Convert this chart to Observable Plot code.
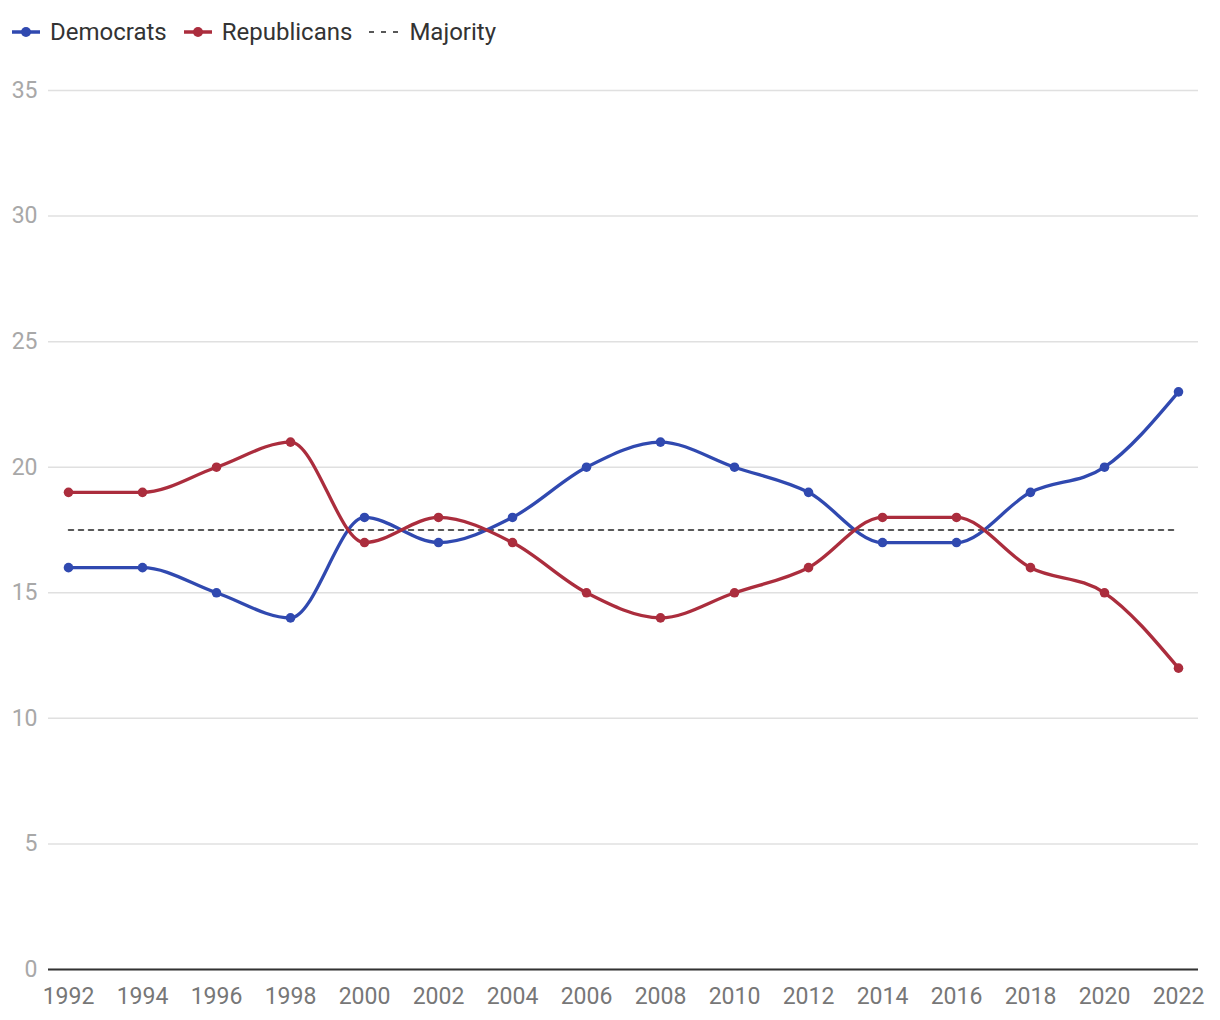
<!DOCTYPE html>
<html>
<head>
<meta charset="utf-8">
<script src="https://cdn.jsdelivr.net/npm/d3@7"></script>
<script src="https://cdn.jsdelivr.net/npm/@observablehq/plot@0.6"></script>
<style>
  html, body { margin: 0; padding: 0; background: #fff; font-family: Roboto, "Noto Sans", sans-serif; }
  #legend { height: 60px; display: flex; align-items: center; padding-left: 12px; font-size: 24px; color: #333; box-sizing: border-box; padding-top: 4px; }
  .item { display: flex; align-items: center; margin-right: 17px; }
  .item svg { margin-right: 10px; }
</style>
</head>
<body>
<div id="legend"></div>
<div id="chart"></div>
<script>
const years = [1992,1994,1996,1998,2000,2002,2004,2006,2008,2010,2012,2014,2016,2018,2020,2022];
const democrats = [16,16,15,14,18,17,18,20,21,20,19,17,17,19,20,23];
const republicans = [19,19,20,21,17,18,17,15,14,15,16,18,18,16,15,12];
const majority = 17.5;
const yTicks = [0,5,10,15,20,25,30,35];
const seriesNames = ["Democrats","Republicans"];
const seriesColors = ["#3049b0","#ab2d3d"];

const data = [];
years.forEach((y,i) => {
  data.push({year: y, value: democrats[i], party: "Democrats"});
  data.push({year: y, value: republicans[i], party: "Republicans"});
});
const majData = years.map(y => ({year: y, value: majority}));

// legend
const legend = document.getElementById("legend");
seriesNames.forEach((n,i) => {
  const d = document.createElement("div");
  d.className = "item";
  d.innerHTML = `<svg width="28" height="12"><line x1="0" x2="28" y1="6" y2="6" stroke="${seriesColors[i]}" stroke-width="3.5"/><circle cx="14" cy="6" r="5" fill="${seriesColors[i]}"/></svg><span>${n}</span>`;
  legend.appendChild(d);
});
{
  const d = document.createElement("div");
  d.className = "item";
  d.innerHTML = `<svg width="30" height="12"><line x1="0" x2="30" y1="6" y2="6" stroke="#222" stroke-width="1.5" stroke-dasharray="5,7"/></svg><span>Majority</span>`;
  legend.appendChild(d);
}

const chart = Plot.plot({
  width: 1220,
  height: 960,
  marginLeft: 48,
  marginRight: 22,
  marginTop: 30,
  marginBottom: 51,
  style: {fontFamily: "Roboto, sans-serif", fontSize: "23px", background: "#fff"},
  x: {type: "point", domain: years, padding: 0.27, label: null},
  y: {domain: [0, 35], label: null},
  color: {domain: seriesNames, range: seriesColors},
  marks: [
    Plot.gridY(yTicks, {stroke: "#e0e0e0", strokeOpacity: 1, strokeWidth: 1.5}),
    Plot.axisY(yTicks, {tickSize: 0, tickPadding: 11, fill: "#a8a8a8", fontSize: 23, label: null}),
    Plot.axisX(years, {tickSize: 0, tickPadding: 18, fill: "#777", fontSize: 23, label: null, tickFormat: d => String(d)}),
    Plot.ruleY([0], {stroke: "#333", strokeWidth: 2}),
    Plot.line(majData, {x: "year", y: "value", stroke: "#222", strokeWidth: 1.5, strokeDasharray: "5,5"}),
    Plot.line(data, {x: "year", y: "value", z: "party", stroke: "party", strokeWidth: 3.3, curve: "monotone-x"}),
    Plot.dot(data, {x: "year", y: "value", fill: "party", r: 4.8})
  ]
});
document.getElementById("chart").appendChild(chart);
</script>
</body>
</html>
